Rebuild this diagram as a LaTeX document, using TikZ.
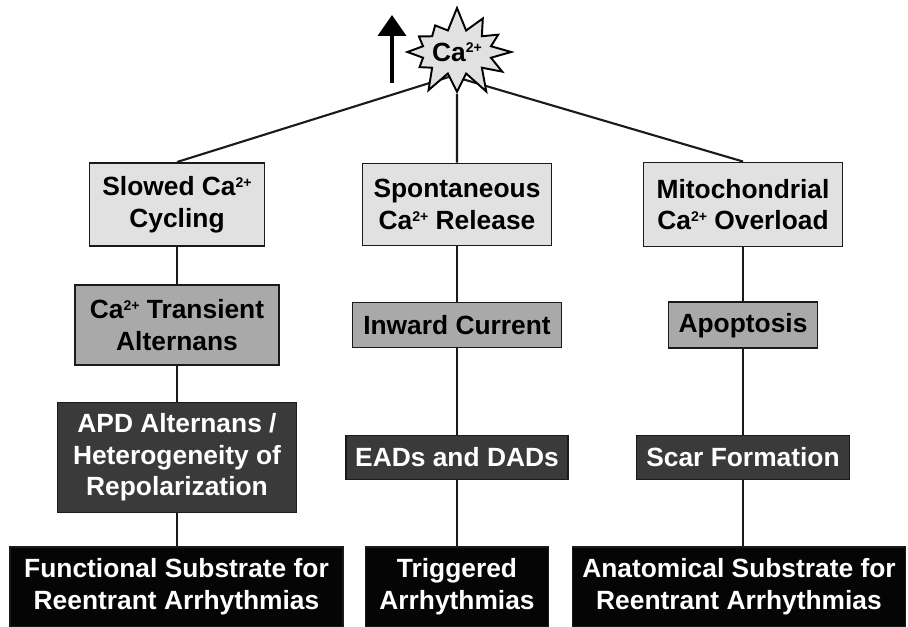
\documentclass[tikz,border=0pt]{standalone}
\usepackage{fontspec}
\setmainfont{Liberation Sans}
\definecolor{arLight}{HTML}{E1E1E1}
\definecolor{arMid}{HTML}{A9A9A9}
\definecolor{arDark}{HTML}{3A3A3A}
\definecolor{arEnd}{HTML}{050505}
\definecolor{arLine}{HTML}{1A1A1A}
\usetikzlibrary{positioning,arrows.meta,shapes.symbols}

\tikzset{
  arbox/.style={draw=arLine, line width=1.1pt, align=center, inner sep=0pt,
    font=\fontsize{15}{18}\selectfont\bfseries},
  lightbox/.style={arbox, fill=arLight, text=black},
  midbox/.style={arbox, fill=arMid, text=black},
  darkbox/.style={arbox, fill=arDark, text=white},
  endbox/.style={arbox, fill=arEnd, text=white},
  link/.style={draw=arLine, line width=1.2pt},
  rise/.style={line width=2.2pt, -{Triangle[width=0.56cm, length=0.42cm]}},
  burst/.style={starburst, starburst points=12, starburst point height=0.48cm,
    random starburst=7, draw=black, line width=1.1pt, fill=arLight,
    minimum width=2.1cm, minimum height=1.85cm, inner sep=0pt,
    font=\fontsize{15}{18}\selectfont\bfseries}
}
\newcommand{\caion}{Ca\raisebox{4.6pt}{\fontsize{8}{8}\selectfont 2+}}

\begin{document}
\begin{tikzpicture}
  \useasboundingbox (0,0) rectangle (18.16,12.54);
  % row 1
  \node[lightbox, minimum width=3.5cm, minimum height=1.66cm] (slowed) at (3.54,8.45) {Slowed \caion\\Cycling};
  \node[lightbox, minimum width=3.78cm, minimum height=1.64cm] (spont) at (9.14,8.45) {Spontaneous\\\caion{} Release};
  \node[lightbox, minimum width=3.98cm, minimum height=1.68cm] (mito) at (14.86,8.45) {Mitochondrial\\\caion{} Overload};
  % row 2
  \node[midbox, minimum width=4.08cm, minimum height=1.6cm] (transient) at (3.54,6.04) {\caion{} Transient\\Alternans};
  \node[midbox, minimum width=4.18cm, minimum height=0.9cm] (inward) at (9.14,6.04) {Inward Current};
  \node[midbox, minimum width=2.98cm, minimum height=0.92cm, text depth=0.1cm] (apopt) at (14.86,6.04) {Apoptosis};
  % row 3
  \node[darkbox, minimum width=4.78cm, minimum height=2.2cm] (apd) at (3.54,3.39) {APD Alternans /\\Heterogeneity of\\Repolarization};
  \node[darkbox, minimum width=4.44cm, minimum height=0.88cm] (eads) at (9.14,3.39) {EADs and DADs};
  \node[darkbox, minimum width=4.26cm, minimum height=0.88cm] (scar) at (14.86,3.39) {Scar Formation};
  % row 4
  \node[endbox, minimum width=6.66cm, minimum height=1.6cm] (functional) at (3.53,0.8) {Functional Substrate for\\Reentrant Arrhythmias};
  \node[endbox, minimum width=3.66cm, minimum height=1.6cm] (triggered) at (9.14,0.8) {Triggered\\Arrhythmias};
  \node[endbox, minimum width=6.66cm, minimum height=1.6cm] (anatomical) at (14.78,0.8) {Anatomical Substrate for\\Reentrant Arrhythmias};

  % links from the burst
  \coordinate (hub) at (9.04,11.02);
  \draw[link] (hub) -- (slowed.north);
  \draw[link] (hub) -- (mito.north);
  \node[burst] (calcium) at (9.14,11.5) {\caion};
  \draw[link] (calcium) -- (spont);
  \coordinate (riseBase) at (7.84,10.88);
  \coordinate (riseTip) at (7.84,12.24);
  \draw[rise] (riseBase) -- (riseTip);

  % columns
  \draw[link] (slowed) -- (transient);
  \draw[link] (transient) -- (apd);
  \draw[link] (apd) -- (functional.north -| apd.south);
  \draw[link] (spont) -- (inward);
  \draw[link] (inward) -- (eads);
  \draw[link] (eads) -- (triggered);
  \draw[link] (mito) -- (apopt);
  \draw[link] (apopt) -- (scar);
  \draw[link] (scar) -- (anatomical.north -| scar.south);
\end{tikzpicture}
\end{document}
